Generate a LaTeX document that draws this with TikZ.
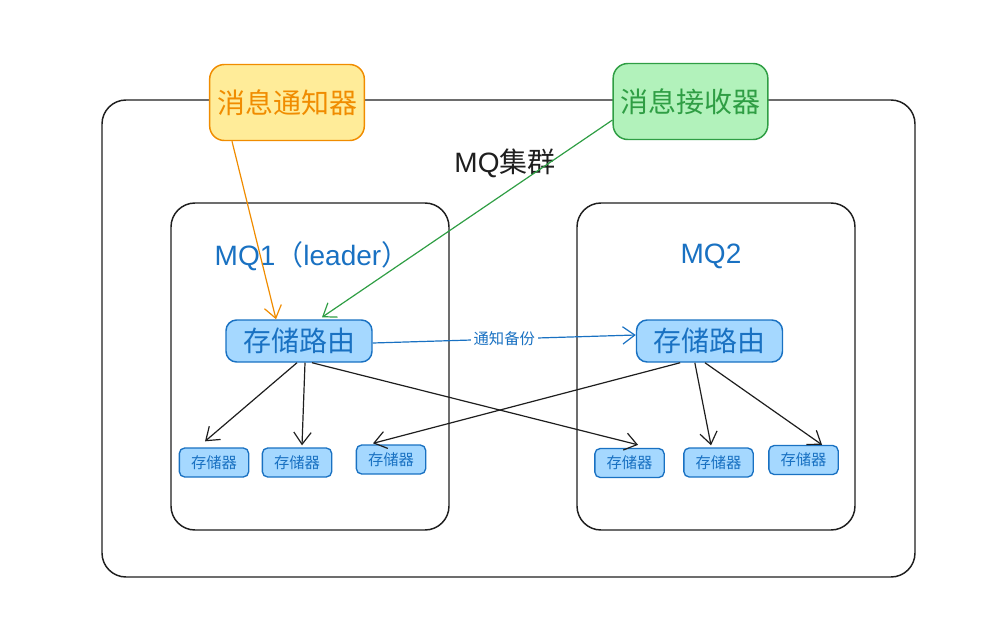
\documentclass[tikz,border=0pt]{standalone}
\usepackage{fontspec}
\setmainfont{Liberation Sans}
\newfontfamily\cjk{Noto Sans CJK SC}
\newfontfamily\lat{Liberation Sans}
\usetikzlibrary{arrows.meta}
\definecolor{ink}{HTML}{1E1E1E}
\definecolor{ylfill}{HTML}{FFEC99}
\definecolor{ylline}{HTML}{F08C00}
\definecolor{grfill}{HTML}{B2F2BB}
\definecolor{grline}{HTML}{2F9E44}
\definecolor{blfill}{HTML}{A5D8FF}
\definecolor{blline}{HTML}{1971C2}
\tikzset{
  frame/.style={draw=ink, line width=1.1pt, rounded corners=18pt},
  topbox/.style={line width=1.1pt, rounded corners=11pt, minimum width=116pt, minimum height=57pt, inner sep=0pt, font=\cjk\fontsize{21}{25}\selectfont},
  router/.style={draw=blline, fill=blfill, text=blline, line width=1.1pt, rounded corners=8pt, minimum width=109.5pt, minimum height=31.5pt, inner sep=0pt, font=\cjk\fontsize{21}{25}\selectfont},
  store/.style={draw=blline, fill=blfill, text=blline, line width=1pt, rounded corners=4pt, minimum width=52pt, minimum height=21.75pt, inner sep=0pt, font=\cjk\fontsize{11.5}{14}\selectfont},
  bluetext/.style={text=blline, font=\fontsize{21}{25}\selectfont},
  conn/.style={draw=ink, line width=0.9pt, -{Straight Barb[length=9pt,width=13pt,line width=0.9pt]}},
}
\begin{document}
\begin{tikzpicture}[x=0.75pt,y=-0.75pt]
\useasboundingbox (0,0) rectangle (1000,629);
% cluster frame
\node[frame, minimum width=609.75pt, minimum height=357.75pt] (cluster) at (508.5,338.5) {};
\node[text=ink, font=\fontsize{21}{25}\selectfont] (clabel) at (505,163) {MQ{\cjk 集群}};
% MQ frames
\node[frame, minimum width=208.5pt, minimum height=245.25pt] (mq1) at (310,366.5) {};
\node[frame, minimum width=208.5pt, minimum height=245.25pt] (mq2) at (716,366.5) {};
\node[bluetext] (mq1t) at (312,256) {MQ1{\cjk （}leader{\cjk ）}};
\node[bluetext] (mq2t) at (711,256) {MQ2};
% top boxes
\node[topbox, draw=ylline, fill=ylfill, text=ylline] (tl) at (287,102.5) {消息通知器};
\node[topbox, draw=grline, fill=grfill, text=grline] (tr) at (690.5,101.5) {消息接收器};
% routers
\node[router] (rl) at (299,341) {存储路由};
\node[router] (rr) at (709.5,341) {存储路由};
% storages
\node[store] (s1) at (214,462.5) {存储器};
\node[store] (s2) at (297,462.5) {存储器};
\node[store] (s3) at (391,459.5) {存储器};
\node[store] (s4) at (629.5,463) {存储器};
\node[store] (s5) at (718.5,462.5) {存储器};
\node[store] (s6) at (803.5,460) {存储器};
% connectors from top boxes
\draw[conn, draw=ylline] ([xshift=-41.25pt]tl.south) -- ([xshift=-17.25pt]rl.north);
\draw[conn, draw=grline] ([yshift=-13.9pt]tr.west) -- ([xshift=17.25pt, yshift=1.5pt]rl.north);
% backup notification
\draw[conn, draw=blline] ([yshift=-1.5pt]rl.east) -- node[fill=white, text=blline, inner sep=2pt, font=\cjk\fontsize{11.5}{14}\selectfont] (bk) {通知备份} ([yshift=4.5pt]rr.west);
% router to storage
\draw[conn] ([xshift=-1.5pt]rl.south) -- ([xshift=-6.75pt, yshift=4.5pt]s1.north);
\draw[conn] ([xshift=4.5pt]rl.south) -- ([xshift=3.75pt, yshift=1.5pt]s2.north);
\draw[conn] ([xshift=9.75pt]rl.south) -- ([xshift=6.4pt, yshift=2.25pt]s4.north);
\draw[conn] ([xshift=-22pt]rr.south) -- ([xshift=-13.5pt, yshift=0.75pt]s3.north);
\draw[conn] ([xshift=-11pt]rr.south) -- ([xshift=-5.6pt, yshift=1.5pt]s5.north);
\draw[conn] ([xshift=-3.4pt]rr.south) -- ([xshift=13.9pt]s6.north);
\end{tikzpicture}
\end{document}
